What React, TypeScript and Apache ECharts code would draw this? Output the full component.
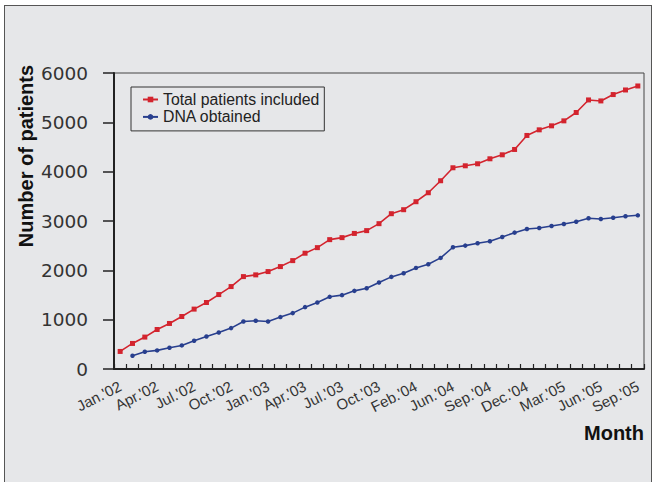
import React, { useEffect, useRef } from "react";
import * as echarts from "echarts";

const categories: string[] = [
  "Jan.'02", "", "", "Apr.'02", "", "", "Jul.'02", "", "", "Oct.'02", "", "",
  "Jan.'03", "", "", "Apr.'03", "", "", "Jul.'03", "", "", "Oct.'03", "", "",
  "Feb.'04", "", "", "Jun.'04", "", "", "Sep.'04", "", "", "Dec.'04", "", "",
  "Mar.'05", "", "", "Jun.'05", "", "", "Sep.'05",
];

const totalPatients: number[] = [
  356, 518, 647, 801, 923, 1064, 1214, 1348, 1509, 1671, 1873, 1908,
  1975, 2076, 2197, 2347, 2460, 2622, 2663, 2748, 2805, 2946, 3148, 3229,
  3391, 3573, 3816, 4079, 4119, 4160, 4261, 4342, 4450, 4734, 4848, 4929,
  5030, 5199, 5454, 5434, 5563, 5656, 5737,
];

const dnaObtained: (number | null)[] = [
  null, 269, 350, 377, 431, 478, 573, 660, 741, 829, 964, 977,
  964, 1052, 1133, 1254, 1348, 1463, 1497, 1584, 1638, 1752, 1867, 1942,
  2049, 2124, 2252, 2468, 2501, 2549, 2590, 2677, 2764, 2838, 2859, 2899,
  2940, 2986, 3055, 3041, 3067, 3095, 3115,
];

const seriesNames = ["Total patients included", "DNA obtained"];
const yTitle = "Number of patients";
const xTitle = "Month";

export default function App() {
  const ref = useRef<HTMLDivElement>(null);

  useEffect(() => {
    if (!ref.current) return;
    const chart = echarts.init(ref.current, null, { renderer: "svg" });
    const red = "#d3242e";
    const blue = "#283f8e";
    chart.setOption({
      animation: false,
      backgroundColor: "transparent",
      grid: {
        left: 114,
        top: 73,
        right: 11,
        bottom: 113,
        show: true,
        borderColor: "#444",
        borderWidth: 1,
        backgroundColor: "transparent",
      },
      legend: {
        orient: "vertical",
        left: 131,
        top: 87,
        padding: [4.5, 5, 6, 11],
        itemWidth: 15,
        itemHeight: 7,
        itemGap: 1.4,
        borderColor: "#333",
        borderWidth: 1,
        backgroundColor: "transparent",
        textStyle: {
          fontFamily: "Liberation Sans, Arial, sans-serif",
          fontSize: 15.8,
          lineHeight: 16,
          color: "#222",
        },
        data: seriesNames,
      },
      xAxis: {
        type: "category",
        data: categories,
        boundaryGap: true,
        axisLine: { lineStyle: { color: "#222", width: 2 } },
        axisTick: {
          show: true,
          interval: 0,
          inside: true,
          length: 5,
          lineStyle: { color: "#222", width: 1.2 },
        },
        axisLabel: {
          interval: 0,
          rotate: 27,
          margin: 16,
          fontFamily: "Liberation Sans, Arial, sans-serif",
          fontSize: 15,
          color: "#333",
        },
        splitLine: { show: false },
      },
      yAxis: {
        type: "value",
        min: 0,
        max: 6000,
        interval: 1000,
        axisLine: { show: true, lineStyle: { color: "#222", width: 2 } },
        axisTick: {
          show: true,
          length: 11,
          lineStyle: { color: "#222", width: 1.5 },
        },
        axisLabel: {
          margin: 26,
          fontFamily: "DejaVu Sans, sans-serif",
          fontSize: 18.5,
          color: "#333",
          formatter: (v: number) => String(v),
        },
        splitLine: { show: false },
      },
      graphic: [
        {
          type: "text",
          x: 26,
          y: 156,
          rotation: Math.PI / 2,
          style: {
            text: yTitle,
            fontFamily: "Liberation Sans, Arial, sans-serif",
            fontWeight: "bold",
            fontSize: 20,
            fill: "#111",
            align: "center",
            verticalAlign: "middle",
          },
        },
        {
          type: "text",
          x: 644,
          y: 433,
          style: {
            text: xTitle,
            fontFamily: "Liberation Sans, Arial, sans-serif",
            fontWeight: "bold",
            fontSize: 20,
            fill: "#111",
            align: "right",
            verticalAlign: "middle",
          },
        },
      ],
      series: [
        {
          name: seriesNames[0],
          type: "line",
          data: totalPatients,
          symbol: "rect",
          symbolSize: 5,
          lineStyle: { color: red, width: 1.6 },
          itemStyle: { color: red },
        },
        {
          name: seriesNames[1],
          type: "line",
          data: dnaObtained,
          symbol: "circle",
          symbolSize: 4.5,
          lineStyle: { color: blue, width: 1.6 },
          itemStyle: { color: blue },
        },
      ],
    });
    return () => chart.dispose();
  }, []);

  return (
    <div
      style={{
        position: "fixed",
        left: 0,
        top: 0,
        width: 655,
        height: 482,
        overflow: "hidden",
        background: "#ffffff",
      }}
    >
      <div
        style={{
          position: "absolute",
          left: 4,
          top: 5,
          width: 646,
          height: 500,
          border: "1.5px solid #555",
          background: "#e6e7e9",
        }}
      />
      <div
        ref={ref}
        style={{ position: "absolute", left: 0, top: 0, width: 655, height: 482 }}
      />
    </div>
  );
}
